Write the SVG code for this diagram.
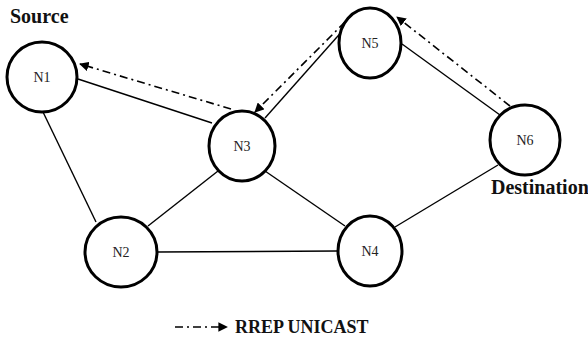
<svg xmlns="http://www.w3.org/2000/svg" width="588" height="340" viewBox="0 0 588 340">
<style>
.node{fill:#fff;stroke:#000;stroke-width:3}
.lbl{font-family:"Liberation Serif",serif;font-size:14px;fill:#222;text-anchor:middle}
.edge{stroke:#000;stroke-width:1.4;fill:none}
.rrep{stroke:#000;stroke-width:1.6;fill:none;stroke-dasharray:8,4,2,4}
.big{font-family:"Liberation Serif",serif;font-weight:bold;font-size:20px;fill:#111}
</style>
<defs>
<marker id="ah" viewBox="0 0 10 10" refX="9" refY="5" markerWidth="6" markerHeight="6" orient="auto" markerUnits="strokeWidth">
<path d="M0,0 L10,5 L0,10 z" fill="#000"/>
</marker>
</defs>
<rect width="588" height="340" fill="#fff"/>
<g id="connectors">
<line class="edge" x1="78" y1="79" x2="212" y2="123"/>
<line class="edge" x1="43" y1="112" x2="96" y2="222"/>
<line class="edge" x1="218" y1="171" x2="148" y2="226"/>
<line class="edge" x1="265" y1="171" x2="345" y2="226"/>
<line class="edge" x1="157" y1="252" x2="338" y2="251"/>
<line class="edge" x1="265" y1="118" x2="345" y2="28"/>
<line class="edge" x1="402" y1="44" x2="500" y2="115"/>
<line class="edge" x1="498" y1="165" x2="395" y2="227"/>
<line class="rrep" x1="231" y1="109" x2="80" y2="64" marker-end="url(#ah)"/>
<line class="rrep" x1="345" y1="22" x2="255" y2="112" marker-end="url(#ah)"/>
<line class="rrep" x1="510" y1="106" x2="397" y2="17" marker-end="url(#ah)"/>
</g>
<g id="N1"><ellipse class="node" cx="42" cy="77" rx="35" ry="35"/><text class="lbl" x="42" y="82">N1</text></g>
<g id="N2"><ellipse class="node" cx="121" cy="252" rx="36" ry="35"/><text class="lbl" x="121" y="257">N2</text></g>
<g id="N3"><ellipse class="node" cx="242" cy="146" rx="33" ry="35"/><text class="lbl" x="242" y="151">N3</text></g>
<g id="N4"><ellipse class="node" cx="370" cy="251" rx="32" ry="35"/><text class="lbl" x="370" y="256">N4</text></g>
<g id="N5"><ellipse class="node" cx="370" cy="43" rx="31" ry="35"/><text class="lbl" x="370" y="48">N5</text></g>
<g id="N6"><ellipse class="node" cx="525" cy="140" rx="35" ry="35"/><text class="lbl" x="525" y="145">N6</text></g>
<text class="big" x="10" y="23">Source</text>
<text class="big" x="491" y="194">Destination</text>
<g id="legend">
<line class="rrep" x1="175" y1="327" x2="227" y2="327" marker-end="url(#ah)"/>
<text class="big" x="235" y="333" style="font-size:18px">RREP UNICAST</text>
</g>
</svg>
